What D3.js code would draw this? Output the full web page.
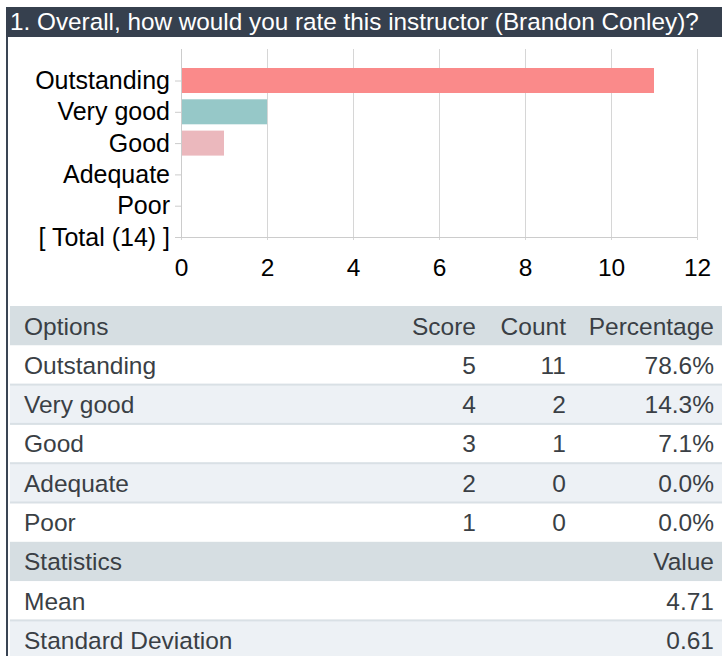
<!DOCTYPE html>
<html>
<head>
<meta charset="utf-8">
<script src="https://cdn.jsdelivr.net/npm/d3@7/dist/d3.min.js"></script>
<style>
  html, body { margin: 0; padding: 0; background: #fff; }
  svg { display: block; font-family: "Liberation Sans", Arial, sans-serif; }
</style>
</head>
<body>
<svg id="chart" width="722" height="656"></svg>
<script>
// ---- data ----
const title = "1. Overall, how would you rate this instructor (Brandon Conley)?";
const categories = ["Outstanding", "Very good", "Good", "Adequate", "Poor"];
const totalLabel = "[ Total (14) ]";
const counts = [11, 2, 1, 0, 0];
const scores = [5, 4, 3, 2, 1];
const percentages = ["78.6%", "14.3%", "7.1%", "0.0%", "0.0%"];
const barColors = ["#fa8a8a", "#96c8c8", "#ebb8bd", "#cccccc", "#cccccc"];
const xTicks = [0, 2, 4, 6, 8, 10, 12];
const tableHeader = ["Options", "Score", "Count", "Percentage"];
const statsHeader = ["Statistics", "Value"];
const statNames = ["Mean", "Standard Deviation"];
const statValues = ["4.71", "0.61"];

const svg = d3.select("#chart");
const W = 722, H = 656;

// frame + title bar
svg.append("rect").attr("x", 6).attr("y", 7).attr("width", 2).attr("height", H - 7).attr("fill", "#3a4554");
svg.append("rect").attr("x", 6).attr("y", 7).attr("width", W - 6).attr("height", 30).attr("fill", "#36404e");
svg.append("text").attr("x", 10).attr("y", 30).attr("fill", "#fff")
  .style("font-size", "24.3px").text(title);

// ---- chart ----
const x0 = 181, x1 = 697, yTop = 49, yAxis = 237;
const x = d3.scaleLinear().domain([0, 12]).range([x0, x1]);
const yLabels = categories.concat([totalLabel]);
const y = d3.scalePoint().domain(yLabels).range([80.5, yAxis]);

// grid via bottom axis
const gx = svg.append("g").attr("transform", `translate(0,${yAxis + 3})`)
  .call(d3.axisBottom(x).tickValues(xTicks).tickSize(-(yAxis + 3 - yTop)).tickSizeOuter(0).tickPadding(19));
gx.select(".domain").remove();
gx.selectAll(".tick line").attr("stroke", "#d6d6d6").attr("stroke-width", 1);
gx.selectAll(".tick text").attr("fill", "#000").style("font-size", "24.5px")
  .style("font-family", "'Liberation Sans', Arial, sans-serif");

// axis lines
svg.append("line").attr("x1", x0).attr("x2", x1).attr("y1", yAxis + 0.5).attr("y2", yAxis + 0.5).attr("stroke", "#cccccc");
svg.append("line").attr("x1", x0 + 0.5).attr("x2", x0 + 0.5).attr("y1", yTop).attr("y2", yAxis).attr("stroke", "#cccccc");

// left axis
const gy = svg.append("g").attr("transform", `translate(${x0},0)`)
  .call(d3.axisLeft(y).tickSize(6).tickPadding(5));
gy.select(".domain").remove();
gy.selectAll(".tick line").attr("stroke", "#cccccc");
gy.selectAll(".tick text").attr("fill", "#000").style("font-size", "25px")
  .style("font-family", "'Liberation Sans', Arial, sans-serif");

// bars
const barH = 25;
svg.append("g").selectAll("rect").data(categories).join("rect")
  .attr("x", x(0) + 1)
  .attr("y", d => y(d) - barH / 2)
  .attr("width", (d, i) => Math.max(0, x(counts[i]) - x(0) - 1))
  .attr("height", barH)
  .attr("fill", (d, i) => barColors[i]);

// ---- table ----
const tTop = 306, rowH = 39.3, tX = 10;
const textColor = "#3a3f45";
const headBg = "#d6dee2", altBg = "#edf1f5", sepColor = "#d9e0e5";
const colX = [24, 476, 566, 714];
const colAnchor = ["start", "end", "end", "end"];

const rows = [];
rows.push({ type: "head", cells: tableHeader });
categories.forEach((c, i) => rows.push({ type: "data", cells: [c, String(scores[i]), String(counts[i]), percentages[i]] }));
rows.push({ type: "head", cells: [statsHeader[0], "", "", statsHeader[1]] });
statNames.forEach((s, i) => rows.push({ type: "data", cells: [s, "", "", statValues[i]] }));

const tg = svg.append("g");
let dataIdx = 0;
rows.forEach((r, ri) => {
  const top = tTop + ri * rowH;
  let bg;
  if (r.type === "head") { bg = headBg; dataIdx = 0; }
  else { bg = dataIdx % 2 === 0 ? "#ffffff" : altBg; dataIdx++; }
  tg.append("rect").attr("x", tX).attr("y", top).attr("width", W - tX).attr("height", rowH + 0.5).attr("fill", bg);
  // separator between consecutive data rows
  if (r.type === "data" && ri > 0 && rows[ri - 1].type === "data") {
    tg.append("rect").attr("x", tX).attr("y", top - 1).attr("width", W - tX).attr("height", 2).attr("fill", sepColor);
  }
  r.cells.forEach((c, ci) => {
    if (c === "") return;
    tg.append("text").attr("x", colX[ci]).attr("y", top + 28.5)
      .attr("text-anchor", colAnchor[ci]).attr("fill", textColor)
      .style("font-size", "24.5px").text(c);
  });
});
</script>
</body>
</html>
